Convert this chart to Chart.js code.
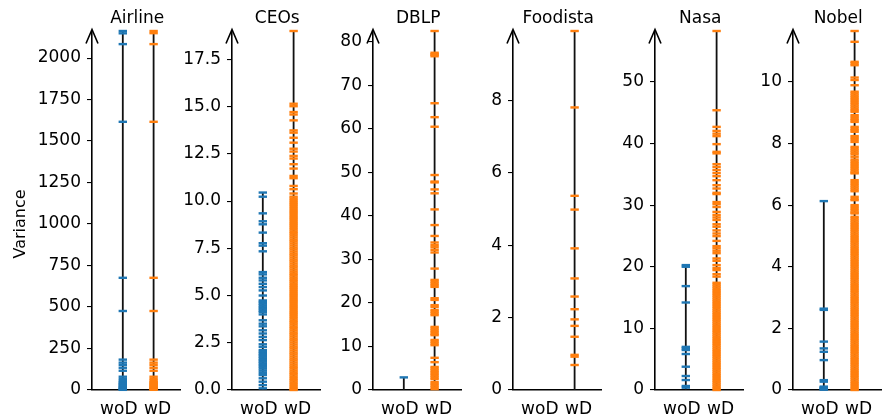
<!DOCTYPE html>
<html>
<head>
<meta charset="utf-8">
<script src="https://cdn.jsdelivr.net/npm/chart.js@4.4.1/dist/chart.umd.min.js"></script>
<style>
  html, body { margin: 0; padding: 0; background: #fff; overflow: hidden; }
  #wrap { position: relative; width: 884px; height: 419px; }
  .panel { position: absolute; top: 0; }
</style>
</head>
<body>
<div id="wrap"></div>
<script>
const categories = ['woD', 'wD'];
const panelNames = ['Airline', 'CEOs', 'DBLP', 'Foodista', 'Nasa', 'Nobel'];

// values, one list per panel and series
const airlineWoD = [2163, 2149, 2084, 1616, 676, 476, 183, 165, 151, 134, 116, 80, 66, 55, 46, 40, 34, 28, 22, 17, 12, 8, 4, 1];
const airlineWD = [2163, 2150, 2084, 1616, 676, 476, 183, 165, 151, 134, 116, 80, 66, 56, 47, 41, 35, 29, 23, 17, 12, 8, 4, 1];

const ceosWoD = [10.45, 10.23, 9.35, 8.93, 8.77, 8.33, 7.77, 7.64, 7.34, 6.24, 6.12, 5.94, 5.8, 5.62, 5.45, 5.27, 5.0,
  4.74, 4.66, 4.57, 4.48, 4.38, 4.3, 4.2, 4.13, 4.0, 3.69, 3.51, 3.37, 3.16, 2.99, 2.81, 2.64, 2.42, 2.28, 2.11, 2.02,
  1.93, 1.85, 1.76, 1.67, 1.58, 1.5, 1.41, 1.32, 1.23, 1.13, 1.02, 0.9, 0.79, 0.62, 0.44, 0.26, 0.09];
const ceosWD = [19.0, 15.15, 15.02, 14.71, 14.58, 14.27, 13.74, 13.62, 13.35, 13.09, 12.77, 12.62, 12.39, 12.25, 11.95,
  11.72, 11.33, 11.21, 10.8, 10.63, 10.4,
  10.23, 10.12, 10.01, 9.9, 9.8, 9.69, 9.58, 9.47, 9.37, 9.26, 9.15, 9.05, 8.94, 8.83, 8.73, 8.62, 8.51, 8.4, 8.3,
  8.19, 8.08, 7.97, 7.87, 7.76, 7.65, 7.54, 7.44, 7.33, 7.22, 7.12, 7.01, 6.9, 6.8, 6.69, 6.58, 6.48, 6.37, 6.26,
  6.15, 6.05, 5.94, 5.83, 5.73, 5.62, 5.51, 5.41, 5.3, 5.19, 5.08, 4.98, 4.87, 4.76, 4.66, 4.55, 4.44, 4.34, 4.23,
  4.12, 4.02, 3.91, 3.8, 3.69, 3.59, 3.48, 3.37, 3.27, 3.16, 3.05, 2.95, 2.84, 2.73, 2.63, 2.52, 2.41, 2.3, 2.2,
  2.09, 1.98, 1.88, 1.77, 1.66, 1.56, 1.45, 1.34, 1.23, 1.13, 1.02, 0.91, 0.81, 0.7, 0.59, 0.49, 0.38, 0.27, 0.16,
  0.06, 0.0];

const dblpWoD = [2.9];
const dblpWD = [82.5, 77.5, 77.2, 77.0, 76.7, 65.9, 62.7, 60.5, 49.4, 47.9, 47.7, 46.1, 45.2, 41.5, 37.9, 35.4, 33.9,
  33.3, 32.8, 32.2, 31.6, 27.9, 25.3, 24.9, 24.5, 24.1, 23.7, 21.1, 20.7, 19.5, 19.1, 18.4, 18.0, 17.6, 17.2, 14.5,
  14.1, 13.7, 13.3, 12.9, 12.6, 11.5, 11.1, 10.7, 10.3, 7.4, 6.4, 5.3, 4.9, 4.5, 4.1, 3.7, 3.3, 2.9, 2.5, 1.8, 1.4,
  1.0, 0.6, 0.2];

const foodistaWoD = [];
const foodistaWD = [9.91, 7.8, 5.36, 4.98, 3.91, 3.08, 2.58, 2.23, 1.95, 1.77, 1.47, 0.97, 0.92, 0.69];

const nasaWoD = [20.27, 20.0, 16.86, 14.2, 7.0, 6.75, 6.49, 5.84, 3.78, 2.27, 1.62, 0.65, 0.38];
const nasaWD = [58.26, 45.4, 42.7, 42.05, 41.6, 41.2, 39.9, 38.65, 38.4, 36.65, 36.2, 35.7, 35.2, 34.7, 34.05, 33.24,
  32.7, 32.0, 31.8, 30.5, 30.16, 29.7, 28.9, 28.4, 28.0, 27.6, 26.9, 26.5, 25.9, 25.4, 24.97, 24.2, 23.35, 23.0, 22.6,
  22.2, 21.35, 20.97, 20.27, 19.8, 19.46, 18.8, 18.4,
  17.4, 17.1, 16.8, 16.5, 16.2, 15.9, 15.6, 15.3, 15.0, 14.7, 14.4, 14.1, 13.8, 13.5, 13.2, 12.9, 12.6, 12.3, 12.0,
  11.7, 11.4, 11.1, 10.8, 10.5, 10.2, 9.9, 9.6, 9.3, 9.0, 8.7, 8.4, 8.1, 7.8, 7.5, 7.2, 6.9, 6.6, 6.3, 6.0, 5.7, 5.4,
  5.1, 4.8, 4.5, 4.2, 3.9, 3.6, 3.3, 3.0, 2.7, 2.4, 2.1, 1.8, 1.5, 1.2, 0.9, 0.6, 0.3, 0.0];

const nobelWoD = [6.13, 2.64, 2.6, 1.57, 1.35, 1.24, 0.97, 0.32, 0.27, 0.11, 0.09, 0.07, 0.05, 0.03, 0.01];
const nobelWD = [11.65, 11.3, 10.65, 10.6, 10.54, 10.14, 10.06, 9.89, 9.68, 9.62, 9.56, 9.5, 9.44, 9.38, 9.32, 9.26,
  9.2, 9.14, 9.08, 9.03, 8.92, 8.86, 8.8, 8.75, 8.7, 8.54, 8.48, 8.43, 8.38, 8.24, 8.18, 8.12, 8.05, 7.89, 7.83,
  7.77, 7.71, 7.65, 7.57, 7.48, 7.42, 7.36, 7.3, 7.24, 7.18, 7.12, 7.06, 7.03, 6.81, 6.75, 6.69, 6.63, 6.57, 6.51,
  6.45, 6.27, 6.2, 6.16, 6.0, 5.94, 5.88, 5.82, 5.76, 5.73,
  5.62, 5.56, 5.5, 5.44, 5.38, 5.32, 5.26, 5.2, 5.14, 5.08, 5.02, 4.96, 4.9, 4.84, 4.78, 4.72, 4.66, 4.6, 4.54, 4.48,
  4.42, 4.36, 4.3, 4.24, 4.18, 4.12, 4.06, 4.0, 3.94, 3.88, 3.82, 3.76, 3.7, 3.64, 3.58, 3.52, 3.46, 3.4, 3.34, 3.28,
  3.22, 3.16, 3.1, 3.04, 2.98, 2.92, 2.86, 2.8, 2.74, 2.68, 2.62, 2.56, 2.5, 2.44, 2.38, 2.32, 2.26, 2.2, 2.14, 2.08,
  2.02, 1.96, 1.9, 1.84, 1.78, 1.72, 1.66, 1.6, 1.54, 1.48, 1.42, 1.36, 1.3, 1.24, 1.18, 1.12, 1.06, 1.0, 0.94, 0.88,
  0.82, 0.76, 0.7, 0.64, 0.58, 0.52, 0.46, 0.4, 0.34, 0.28, 0.22, 0.16, 0.1, 0.04, 0.0];

// y tick labels per panel
const airlineTicks = ['0', '250', '500', '750', '1000', '1250', '1500', '1750', '2000'];
const ceosTicks = ['0.0', '2.5', '5.0', '7.5', '10.0', '12.5', '15.0', '17.5'];
const dblpTicks = ['0', '10', '20', '30', '40', '50', '60', '70', '80'];
const foodistaTicks = ['0', '2', '4', '6', '8'];
const nasaTicks = ['0', '10', '20', '30', '40', '50'];
const nobelTicks = ['0', '2', '4', '6', '8', '10'];

const seriesWoD = [airlineWoD, ceosWoD, dblpWoD, foodistaWoD, nasaWoD, nobelWoD];
const seriesWD = [airlineWD, ceosWD, dblpWD, foodistaWD, nasaWD, nobelWD];
const tickLabels = [airlineTicks, ceosTicks, dblpTicks, foodistaTicks, nasaTicks, nobelTicks];

const spineX = [92, 232, 373, 513, 655, 793];
const labelPos = [-0.13, 1.13];   // where the category names sit on the x scale
const AXIS_W = 90;     // room left of the spine for tick labels
const PLOT_W = 89;
const CANVAS_W = AXIS_W + PLOT_W + 6;
const CANVAS_H = 419;
const FONT = { family: '"DejaVu Sans", sans-serif', size: 17 };
const colors = ['#1f77b4', '#ff7f0e'];

const decorPlugin = {
  id: 'decor',
  afterDraw(chart, args, opts) {
    const ctx = chart.ctx;
    const area = chart.chartArea;
    ctx.save();
    // arrow head on the y spine
    ctx.strokeStyle = '#000';
    ctx.lineWidth = 1.6;
    ctx.lineJoin = 'miter';
    ctx.beginPath();
    ctx.moveTo(area.left - 6, area.top + 12.5);
    ctx.lineTo(area.left, area.top - 1.5);
    ctx.lineTo(area.left + 6, area.top + 12.5);
    ctx.stroke();
    // title
    ctx.fillStyle = '#000';
    ctx.font = FONT.size + 'px ' + FONT.family;
    ctx.textAlign = 'center';
    ctx.textBaseline = 'alphabetic';
    ctx.fillText(opts.title, (area.left + area.right) / 2 + 1, 22.5);
    if (opts.ylabel) {
      ctx.font = '16px ' + FONT.family;
      ctx.translate(opts.ylabelX, opts.ylabelY);
      ctx.rotate(-Math.PI / 2);
      ctx.textBaseline = 'middle';
      ctx.fillText(opts.ylabel, 0, 0);
    }
    ctx.restore();
  }
};

function makePanel(i) {
  const wrap = document.getElementById('wrap');
  const div = document.createElement('div');
  div.className = 'panel';
  const left = spineX[i] - AXIS_W;
  div.style.left = left + 'px';
  const canvas = document.createElement('canvas');
  canvas.width = CANVAS_W;
  canvas.height = CANVAS_H;
  canvas.style.width = CANVAS_W + 'px';
  canvas.style.height = CANVAS_H + 'px';
  div.appendChild(canvas);
  wrap.appendChild(div);

  const groups = [seriesWoD[i], seriesWD[i]];
  const yMax = Math.max(...groups[0], ...groups[1]);
  const labels = tickLabels[i];
  const tickValues = labels.map(Number);

  const datasets = [];
  groups.forEach((vals, k) => {
    if (!vals.length) return;
    datasets.push({
      data: vals.map(v => ({ x: k, y: v })),
      pointStyle: 'line',
      pointRadius: 4.2,
      pointHoverRadius: 4.2,
      pointBorderWidth: 2.4,
      pointBorderColor: colors[k],
      borderColor: colors[k],
      showLine: false,
      clip: false,
      order: 0
    });
  });
  groups.forEach((vals, k) => {
    if (!vals.length) return;
    datasets.push({
      data: [{ x: k, y: 0 }, { x: k, y: Math.max(...vals) }],
      showLine: true,
      borderColor: '#111',
      borderWidth: 1.8,
      pointRadius: 0,
      clip: false,
      order: 1
    });
  });

  new Chart(canvas.getContext('2d'), {
    type: 'scatter',
    data: { datasets },
    plugins: [decorPlugin],
    options: {
      responsive: false,
      animation: false,
      events: [],
      layout: { padding: { top: 31, right: CANVAS_W - AXIS_W - PLOT_W, left: 0, bottom: 0 } },
      plugins: {
        legend: { display: false },
        tooltip: { enabled: false },
        decor: {
          title: panelNames[i],
          ylabel: i === 0 ? 'Variance' : null,
          ylabelX: 21 - left,
          ylabelY: 224
        }
      },
      scales: {
        x: {
          type: 'linear',
          min: -1,
          max: 1.87,
          grid: { display: false },
          border: { display: true, color: '#000', width: 1.6 },
          ticks: {
            font: FONT,
            color: '#000',
            padding: 1,
            autoSkip: false,
            maxRotation: 0,
            callback: (v, idx) => categories[idx]
          },
          afterBuildTicks: s => { s.ticks = labelPos.map(p => ({ value: p })); },
          afterFit: s => { s.height = CANVAS_H - 390; }
        },
        y: {
          type: 'linear',
          min: 0,
          max: yMax,
          grid: { drawOnChartArea: false, drawTicks: true, tickLength: 5, tickColor: '#000', lineWidth: 1.1 },
          border: { display: true, color: '#000', width: 1.6 },
          ticks: {
            font: FONT,
            color: '#000',
            padding: 6,
            autoSkip: false,
            callback: (v, idx) => labels[idx]
          },
          afterBuildTicks: s => { s.ticks = tickValues.map(v => ({ value: v })); },
          afterFit: s => { s.width = AXIS_W; }
        }
      }
    }
  });
}

for (let i = 0; i < panelNames.length; i++) makePanel(i);
</script>
</body>
</html>
